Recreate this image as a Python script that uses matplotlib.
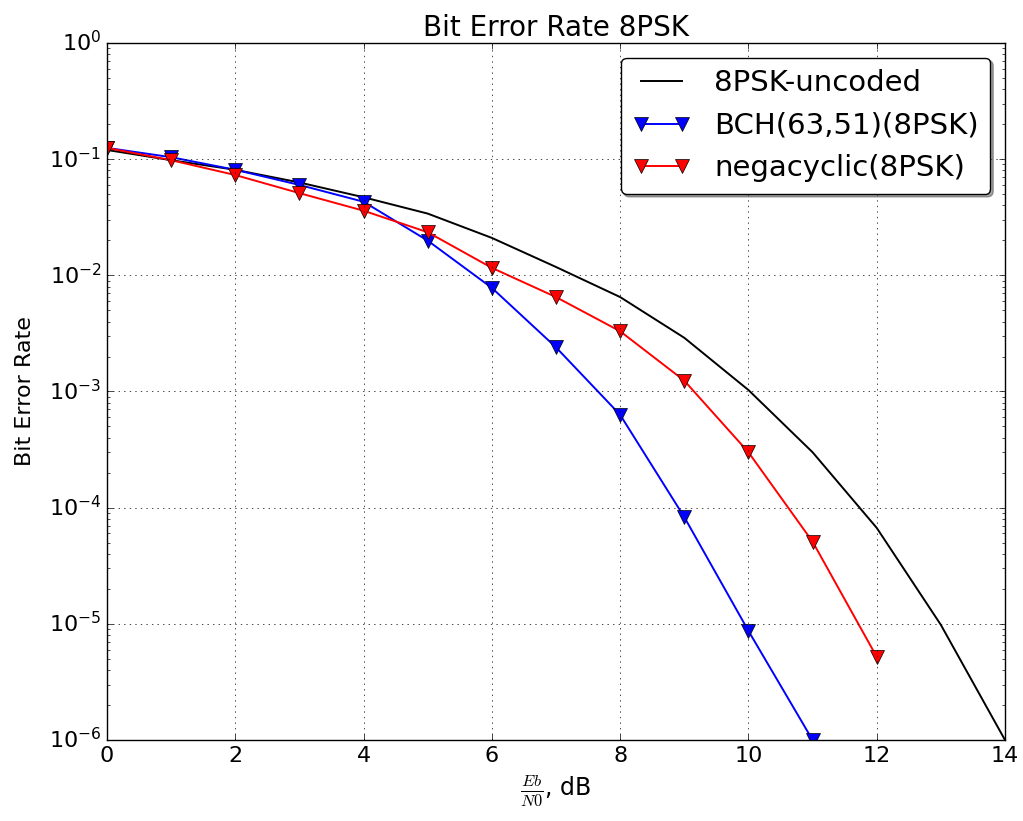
import matplotlib
matplotlib.use('Agg')
import matplotlib.pyplot as plt

plt.style.use('classic')

snr_uncoded = [0, 1, 2, 3, 4, 5, 6, 7, 8, 9, 10, 11, 12, 13, 14]
ber_uncoded = [0.12, 0.098, 0.081, 0.063, 0.047, 0.034, 0.021, 0.0118, 0.0065,
               0.0029, 0.00103, 0.0003, 6.7e-5, 9.8e-6, 1e-6]

snr_bch = [0, 1, 2, 3, 4, 5, 6, 7, 8, 9, 10, 11]
ber_bch = [0.125, 0.104, 0.081, 0.060, 0.043, 0.0199, 0.0078, 0.0024,
           0.00063, 8.3e-5, 8.7e-6, 1e-6]

snr_nega = [0, 1, 2, 3, 4, 5, 6, 7, 8, 9, 10, 11, 12]
ber_nega = [0.125, 0.098, 0.073, 0.051, 0.036, 0.0235, 0.0116, 0.0065,
            0.0033, 0.00124, 0.0003, 5.1e-5, 5.2e-6]

fig = plt.figure(figsize=(10.23, 8.21), dpi=100, facecolor='white')
ax = fig.add_axes([107 / 1023, 1 - 740 / 821, 898 / 1023, 697 / 821])

ax.semilogy(snr_uncoded, ber_uncoded, 'k-', lw=1.4, label='8PSK-uncoded')
ax.semilogy(snr_bch, ber_bch, 'b-v', lw=1.4, ms=10, label='BCH(63,51)(8PSK)')
ax.semilogy(snr_nega, ber_nega, 'r-v', lw=1.4, ms=10, label='negacyclic(8PSK)')

ax.set_xlim(0, 14)
ax.set_ylim(1e-6, 1)
ax.grid(True)
ax.tick_params(labelsize=16)
ax.set_title('Bit Error Rate 8PSK', fontsize=20)
ax.set_ylabel('Bit Error Rate', fontsize=16, labelpad=10)
ax.set_xlabel(r'$\frac{Eb}{N0}$, dB', fontsize=17, labelpad=6)
ax.legend(loc='upper right', fontsize=21, fancybox=True, shadow=True, numpoints=2)

fig.savefig('out.png', dpi=100, facecolor='white')
